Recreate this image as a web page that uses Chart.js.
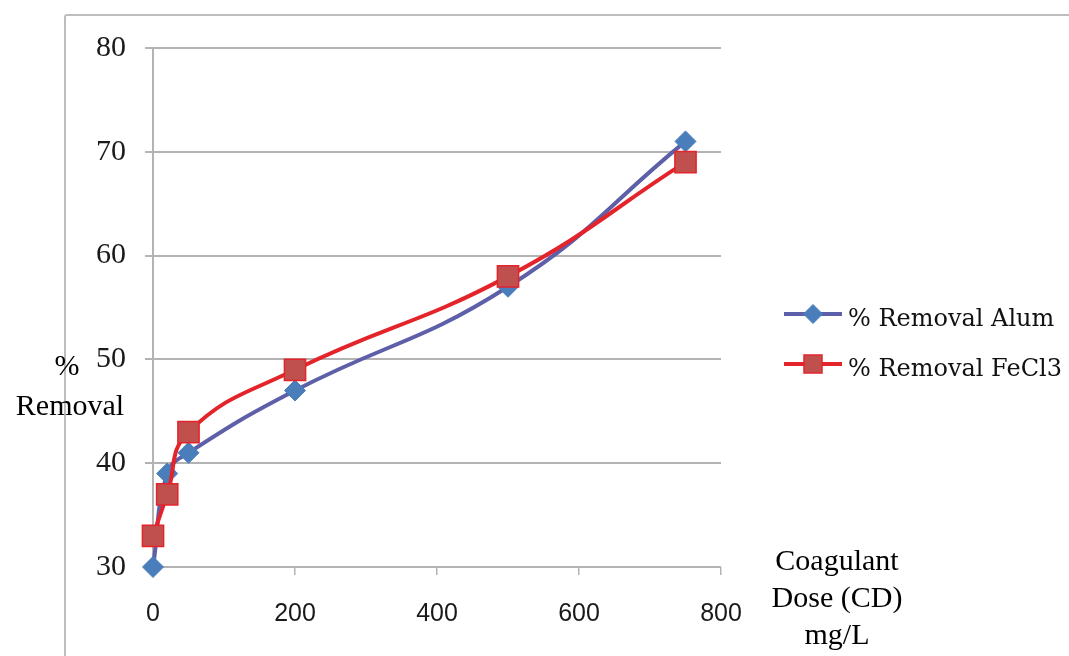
<!DOCTYPE html>
<html><head><meta charset="utf-8">
<script src="https://cdn.jsdelivr.net/npm/chart.js@4/dist/chart.umd.min.js"></script>
<style>html,body{margin:0;padding:0;background:#fff;}#wrap{position:relative;width:1069px;height:656px;}</style>
</head><body><div id="wrap"><canvas id="c" width="1069" height="656"></canvas></div>
<script>
const doses = [0, 20, 50, 200, 500, 750];
const alum = [30, 39, 41, 47, 57, 71];
const fecl3 = [33, 37, 43, 49, 58, 69];
const xTicks = [0, 200, 400, 600, 800];
const yTicks = [30, 40, 50, 60, 70, 80];
const seriesNames = ['% Removal Alum', '% Removal FeCl3'];
const yTitle = ['%', 'Removal'];
const xTitle = ['Coagulant', 'Dose (CD)', 'mg/L'];

const toPts = (xs, ys) => xs.map((x, i) => ({x: x, y: ys[i]}));
const ALUM_LINE = '#5d5fa8', ALUM_PT = '#4a7ebb';
const FE_LINE = '#e3242b', FE_PT = '#c0504d';
const GRID = '#b3b3b3';

const deco = {
  id: 'deco',
  afterDraw(chart) {
    const ctx = chart.ctx;
    ctx.save();
    ctx.strokeStyle = '#bdbdbd';
    ctx.lineWidth = 2;
    ctx.beginPath();
    ctx.moveTo(65, 656);
    ctx.lineTo(65, 17);
    ctx.quadraticCurveTo(65, 15, 67, 15);
    ctx.lineTo(1069, 15);
    ctx.stroke();
    ctx.fillStyle = '#000';
    ctx.font = '30px "Liberation Serif"';
    ctx.textAlign = 'center';
    ctx.textBaseline = 'alphabetic';
    ctx.fillText(yTitle[0], 67, 375);
    ctx.fillText(yTitle[1], 70, 415);
    ctx.fillText(xTitle[0], 837, 570);
    ctx.fillText(xTitle[1], 837, 607);
    ctx.fillText(xTitle[2], 837, 644);
    const items = [
      {y: 314, line: ALUM_LINE, pt: ALUM_PT, shape: 'diamond', text: seriesNames[0], tb: 326},
      {y: 364, line: FE_LINE, pt: FE_PT, shape: 'square', text: seriesNames[1], tb: 376}
    ];
    items.forEach(it => {
      ctx.strokeStyle = it.line;
      ctx.lineWidth = 4;
      ctx.beginPath();
      ctx.moveTo(784, it.y); ctx.lineTo(842, it.y); ctx.stroke();
      ctx.fillStyle = it.pt;
      ctx.beginPath();
      if (it.shape === 'diamond') {
        const r = 9.5;
        ctx.moveTo(813 - r, it.y); ctx.lineTo(813, it.y - r);
        ctx.lineTo(813 + r, it.y); ctx.lineTo(813, it.y + r); ctx.closePath();
        ctx.fill();
        ctx.strokeStyle = ALUM_PT; ctx.lineWidth = 1; ctx.stroke();
      } else {
        ctx.rect(804, it.y - 9, 18, 18);
        ctx.fill();
        ctx.strokeStyle = FE_LINE; ctx.lineWidth = 1.5; ctx.stroke();
      }
      ctx.fillStyle = '#111';
      ctx.font = '24px "DejaVu Serif"';
      ctx.textAlign = 'left';
      ctx.fillText(it.text, 848, it.tb);
    });
    ctx.restore();
  }
};

new Chart(document.getElementById('c'), {
  type: 'line',
  data: {
    datasets: [
      {label: seriesNames[0], data: toPts(doses, alum), borderColor: ALUM_LINE, borderWidth: 4,
       pointStyle: 'rectRot', pointRadius: 10.5, pointBackgroundColor: ALUM_PT, pointBorderColor: ALUM_PT,
       pointBorderWidth: 1, tension: 0.45, order: 2, clip: false},
      {label: seriesNames[1], data: toPts(doses, fecl3), borderColor: FE_LINE, borderWidth: 4,
       pointStyle: 'rect', pointRadius: 15, pointBackgroundColor: FE_PT, pointBorderColor: FE_LINE,
       pointBorderWidth: 1.5, tension: 0.45, order: 1, clip: false}
    ]
  },
  options: {
    responsive: false, animation: false, devicePixelRatio: 1,
    layout: {padding: {top: 48, right: 348, bottom: 0, left: 0}},
    plugins: {legend: {display: false}, tooltip: {enabled: false}},
    scales: {
      x: {
        type: 'linear', min: 0, max: 800,
        afterBuildTicks: (a) => { a.ticks = xTicks.map(v => ({value: v})); },
        afterFit: (a) => { a.height = 89; },
        ticks: {font: {family: '"Liberation Sans"', size: 25}, color: '#1a1a1a', padding: 24, maxRotation: 0},
        grid: {display: true, drawOnChartArea: false, drawTicks: true, tickLength: 8, color: GRID, lineWidth: 1.5},
        border: {display: false}
      },
      y: {
        min: 30, max: 80,
        afterBuildTicks: (a) => { a.ticks = yTicks.map(v => ({value: v})); },
        afterFit: (a) => { a.width = 153; },
        ticks: {font: {family: '"Liberation Serif"', size: 30}, color: '#1a1a1a', padding: 19},
        grid: {color: GRID, lineWidth: 2, tickLength: 8},
        border: {display: true, color: GRID, width: 2}
      }
    }
  },
  plugins: [deco]
});
</script></body></html>
